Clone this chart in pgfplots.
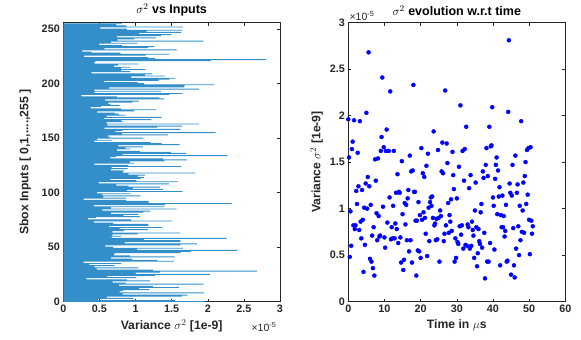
\documentclass[border=0pt]{standalone}
\usepackage{fontspec}
\setmainfont{Liberation Sans}
\usepackage{pgfplots}
\usepackage{pgfplotstable}
\pgfplotsset{compat=1.18}
\definecolor{mblue}{rgb}{0,0.447,0.741}
\definecolor{axgray}{rgb}{0.15,0.15,0.15}
\pgfplotstableread{
i t v
0 0.0 1.96
1 0.2 1.55
2 0.4 0.48
3 0.6 0.97
4 0.8 0.60
5 1.0 1.64
6 1.2 1.72
7 1.4 0.82
8 1.6 1.95
9 1.8 0.78
10 2.0 0.82
11 2.2 1.19
12 2.4 1.05
13 2.6 1.60
14 2.8 1.24
15 3.0 0.77
16 3.2 1.94
17 3.4 0.86
18 3.6 0.68
19 3.8 1.20
20 4.0 0.88
21 4.2 0.32
22 4.4 1.01
23 4.6 0.61
24 4.8 1.27
25 5.0 2.03
26 5.2 1.00
27 5.4 1.34
28 5.6 2.68
29 5.8 1.24
30 6.0 0.46
31 6.2 1.04
32 6.4 0.43
33 6.6 0.71
34 6.8 0.36
35 7.0 0.80
36 7.2 0.28
37 7.4 1.53
38 7.6 1.30
39 7.8 0.95
40 8.0 0.66
41 8.2 1.54
42 8.4 0.92
43 8.6 0.70
44 8.8 0.71
45 9.0 1.62
46 9.2 1.77
47 9.4 2.41
48 9.6 1.02
49 9.8 1.66
50 10.0 0.69
51 10.2 0.58
52 10.4 1.62
53 10.6 1.85
54 10.8 0.85
55 11.0 1.62
56 11.2 1.62
57 11.4 1.12
58 11.6 2.26
59 11.8 0.67
60 12.0 0.80
61 12.2 0.68
62 12.4 1.03
63 12.6 1.62
64 12.8 0.68
65 13.0 0.84
66 13.2 1.17
67 13.4 0.78
68 13.6 1.37
69 13.8 0.63
70 14.0 1.18
71 14.2 1.17
72 14.4 0.69
73 14.6 0.42
74 14.8 1.51
75 15.0 0.94
76 15.2 0.34
77 15.4 0.45
78 15.6 1.06
79 15.8 0.83
80 16.0 1.04
81 16.2 0.66
82 16.4 1.11
83 16.6 1.20
84 16.8 0.54
85 17.0 1.57
86 17.2 0.66
87 17.4 1.40
88 17.6 0.42
89 17.8 1.41
90 18.0 2.33
91 18.2 1.18
92 18.4 1.18
93 18.6 0.87
94 18.8 0.28
95 19.0 0.87
96 19.2 0.55
97 19.4 1.07
98 19.6 0.54
99 19.8 0.93
100 20.0 0.47
101 20.2 1.65
102 20.4 0.88
103 20.6 1.38
104 20.8 0.96
105 21.0 1.34
106 21.2 0.90
107 21.4 0.73
108 21.6 1.46
109 21.8 0.49
110 22.0 1.59
111 22.2 1.01
112 22.4 0.65
113 22.6 1.07
114 22.8 1.12
115 23.0 1.03
116 23.2 1.13
117 23.4 0.90
118 23.6 1.83
119 23.8 0.82
120 24.0 0.84
121 24.2 0.66
122 24.4 0.89
123 24.6 0.67
124 24.8 1.63
125 25.0 0.90
126 25.2 0.43
127 25.4 0.98
128 25.6 0.92
129 25.8 1.40
130 26.0 1.71
131 26.2 1.38
132 26.4 0.65
133 26.6 0.73
134 26.8 2.27
135 27.0 0.82
136 27.2 1.70
137 27.4 1.49
138 27.6 1.06
139 27.8 0.74
140 28.0 0.93
141 28.2 0.86
142 28.4 1.10
143 28.6 0.76
144 28.8 1.61
145 29.0 1.36
146 29.2 1.21
147 29.4 0.43
148 29.6 0.68
149 29.8 0.47
150 30.0 1.11
151 30.2 0.64
152 30.4 0.62
153 30.6 1.45
154 30.8 0.81
155 31.0 2.11
156 31.2 0.72
157 31.4 0.82
158 31.6 1.62
159 31.8 0.57
160 32.0 1.30
161 32.2 1.64
162 32.4 0.61
163 32.6 1.88
164 32.8 0.60
165 33.0 0.83
166 33.2 0.80
167 33.4 1.22
168 33.6 0.57
169 33.8 1.36
170 34.0 0.60
171 34.2 0.86
172 34.4 0.77
173 34.6 0.71
174 34.8 0.47
175 35.0 0.98
176 35.2 1.28
177 35.4 0.80
178 35.6 0.38
179 35.8 0.52
180 36.0 0.78
181 36.2 0.65
182 36.4 0.62
183 36.6 0.96
184 36.8 1.05
185 37.0 0.58
186 37.2 1.40
187 37.4 1.33
188 37.6 0.74
189 37.8 0.25
190 38.0 1.47
191 38.2 1.65
192 38.4 0.43
193 38.6 1.35
194 38.8 0.43
195 39.0 1.88
196 39.2 0.63
197 39.4 1.67
198 39.6 1.68
199 39.8 2.09
200 40.0 1.12
201 40.2 1.03
202 40.4 0.56
203 40.6 1.32
204 40.8 1.47
205 41.0 1.55
206 41.2 0.94
207 41.4 1.41
208 41.6 1.13
209 41.8 1.23
210 42.0 0.39
211 42.2 0.93
212 42.4 0.80
213 42.6 1.14
214 42.8 0.80
215 43.0 0.92
216 43.2 0.70
217 43.4 0.76
218 43.6 1.04
219 43.8 0.43
220 44.0 0.44
221 44.2 2.04
222 44.4 2.81
223 44.6 1.27
224 44.8 1.17
225 45.0 0.29
226 45.2 1.14
227 45.4 1.47
228 45.6 0.79
229 45.8 0.39
230 46.0 0.26
231 46.2 1.57
232 46.4 0.57
233 46.6 1.17
234 46.8 1.26
235 47.0 0.81
236 47.2 0.50
237 47.4 1.03
238 47.6 0.66
239 47.8 1.94
240 48.0 0.75
241 48.2 0.98
242 48.4 1.28
243 48.6 0.74
244 48.8 1.35
245 49.0 1.50
246 49.2 1.05
247 49.4 1.63
248 49.6 1.15
249 49.8 1.65
250 50.0 0.88
251 50.2 0.51
252 50.4 1.66
253 50.6 0.87
254 50.8 0.73
255 51.0 0.81
}\data

\pgfplotsset{
  mstyle/.style={
    scale only axis,
    anchor=south west,
    axis line style={axgray, line width=0.5pt},
    tick style={axgray, line width=0.5pt},
    tick align=inside,
    major tick length=3pt,
    ticklabel style={font=\fontsize{10.8}{12}\selectfont\bfseries, text=axgray},
    /pgf/number format/assume math mode=true,
    label style={font=\fontsize{12.2}{14}\selectfont\bfseries, text=axgray},
    title style={font=\fontsize{12.5}{14}\selectfont\bfseries, text=black, yshift=-3pt},
    clip=true,
  }
}

\begin{document}
\begin{tikzpicture}[x=1pt,y=1pt]
\path (0,0) rectangle (581,339);
\begin{axis}[mstyle,
  at={(63.3pt,38.3pt)}, width=216.7pt, height=279pt,
  xmin=0, xmax=3, ymin=0, ymax=256,
  xtick={0,0.5,...,3}, ytick={0,50,...,250},
  xlabel={Variance $\sigma^2$ [1e-9]},
  ylabel={Sbox Inputs [ 0,1,....,255 ]},
  ylabel shift=4pt,
  title={$\sigma^2$ vs Inputs},
]
\addplot[xbar, bar width=0.8, fill=mblue!80, draw=none] table[x=v,y=i]{\data};
\end{axis}
\node[font=\fontsize{10.5}{12}\selectfont, text=axgray, anchor=west] at (248,13) {×10\textsuperscript{-5}};
\begin{axis}[mstyle,
  at={(348.3pt,38.3pt)}, width=217pt, height=279pt,
  xmin=0, xmax=60, ymin=0, ymax=3,
  xtick={0,10,...,60}, ytick={0,0.5,...,3},
  xlabel={Time in $\mu$s},
  ylabel={Variance $\sigma^2$ [1e-9]},
  title={$\sigma^2$ evolution w.r.t time},
]
\addplot[only marks, mark=*, mark size=2pt, color=blue] table[x=t,y=v]{\data};
\end{axis}
\node[font=\fontsize{10.5}{12}\selectfont, text=axgray, anchor=west] at (346,324) {×10\textsuperscript{-5}};
\end{tikzpicture}
\end{document}
